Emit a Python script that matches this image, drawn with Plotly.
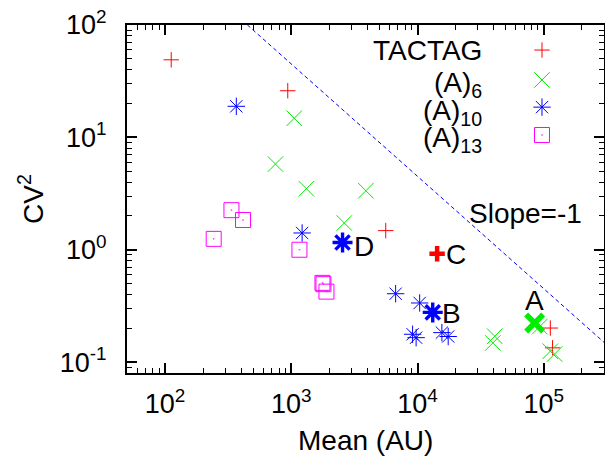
import math
import plotly.graph_objects as go

# ---------------- data ----------------
tactag_mean = [112, 938, 5600, 112700, 117400]
tactag_cv2 = [49, 26, 1.48, 0.201, 0.134]

a6_mean = [1055, 750, 1318, 3900, 2630, 40900, 39500, 92900, 112700, 121900]
a6_cv2 = [14.8, 5.78, 3.49, 3.35, 1.73, 0.17, 0.148, 0.207, 0.125, 0.118]

a10_mean = [367, 1219, 6710, 10400, 9140, 9750, 15600, 17500]
a10_cv2 = [18.9, 1.41, 0.406, 0.336, 0.177, 0.165, 0.183, 0.169]

a13_mean = [336, 415, 243, 1161, 1766, 1799, 1901]
a13_cv2 = [2.25, 1.84, 1.25, 1.0, 0.507, 0.494, 0.424]

# highlighted points
hl_labels = ["A", "B", "C", "D"]
hl_series = ["a6", "a10", "tactag", "a10"]
hl_mean = [84700, 13200, 14300, 2548]
hl_cv2 = [0.223, 0.277, 0.92, 1.16]

series_names = ["TACTAG", "(A)<sub>6</sub>", "(A)<sub>10</sub>", "(A)<sub>13</sub>"]

slope_const = 4.5e4
slope_x = [50, 3e5]
slope_label = "Slope=-1"

xtick_vals = [1e2, 1e3, 1e4, 1e5]
xtick_text = ["10<sup>2</sup>", "10<sup>3</sup>", "10<sup>4</sup>", "10<sup>5</sup>"]
ytick_vals = [0.1, 1, 10, 100]
ytick_text = ["10<sup>-1</sup>", "10<sup>0</sup>", "10<sup>1</sup>", "10<sup>2</sup>"]

x_title = "Mean (AU)"
y_title = "CV<sup>2</sup>"

# ---------------- styles ----------------
FONT = "Liberation Sans, Arial, Helvetica, sans-serif"
TXT = 28
RED, GREEN, BLUE, MAG = "#ff0000", "#00ee00", "#0000ff", "#ff00ff"
style = {
    "tactag": dict(symbol="cross-thin", color=RED, size=11),
    "a6": dict(symbol="x-thin", color=GREEN, size=15.5),
    "a10": dict(symbol="asterisk", color=BLUE, size=14.5),
    "a13": dict(symbol="square-open-dot", color=MAG, size=15),
}
bold_width = {"tactag": 4.5, "a6": 5.5, "a10": 3.4, "a13": 3}
bold_scale = {"tactag": 1.0, "a6": 1.1, "a10": 1.15, "a13": 1.0}


def mk(key, width=1.0, scale=1.0):
    s = style[key]
    return dict(symbol=s["symbol"], size=s["size"] * scale, color=s["color"],
                line=dict(color=s["color"], width=width))


fig = go.Figure()

# slope line
fig.add_trace(go.Scatter(x=slope_x, y=[slope_const / v for v in slope_x], mode="lines",
                         line=dict(color=BLUE, width=1, dash="4px,3px"),
                         showlegend=False, hoverinfo="skip"))

data = [("tactag", tactag_mean, tactag_cv2), ("a6", a6_mean, a6_cv2),
        ("a10", a10_mean, a10_cv2), ("a13", a13_mean, a13_cv2)]
for key, xs, ys in data:
    fig.add_trace(go.Scatter(x=xs, y=ys, mode="markers", marker=mk(key),
                             showlegend=False))

# highlighted bold points
for lab, key, xv, yv in zip(hl_labels, hl_series, hl_mean, hl_cv2):
    fig.add_trace(go.Scatter(x=[xv], y=[yv], mode="markers",
                             marker=mk(key, width=bold_width[key], scale=bold_scale[key]),
                             showlegend=False))

# point labels (text)
lab_pos = {"A": dict(xanchor="center", yanchor="bottom", xshift=0, yshift=5),
           "B": dict(xanchor="left", yanchor="middle", xshift=7, yshift=-1),
           "C": dict(xanchor="left", yanchor="middle", xshift=7, yshift=-1),
           "D": dict(xanchor="left", yanchor="middle", xshift=9, yshift=-4)}
for lab, xv, yv in zip(hl_labels, hl_mean, hl_cv2):
    p = lab_pos[lab]
    fig.add_annotation(x=math.log10(xv), y=math.log10(yv), xref="x", yref="y",
                       text=lab, showarrow=False, font=dict(family=FONT, size=TXT, color="black"),
                       **p)

# slope label
fig.add_annotation(x=1.0, y=0, xref="paper", yref="paper", text=slope_label, showarrow=False,
                   xanchor="right", yanchor="middle", xshift=-20, yshift=160,
                   font=dict(family=FONT, size=TXT, color="black"))

# legend (text on left, symbol on right) using an overlay axis
leg_y = [0.928, 0.842, 0.764, 0.684]
leg_keys = ["tactag", "a6", "a10", "a13"]
for key, name, yy in zip(leg_keys, series_names, leg_y):
    fig.add_trace(go.Scatter(x=[0.870], y=[yy], xaxis="x2", yaxis="y2", mode="markers",
                             marker=mk(key), showlegend=False, hoverinfo="skip"))
    fig.add_annotation(x=0.749, y=yy, xref="paper", yref="paper", text=name, showarrow=False,
                       xanchor="right", yanchor="middle",
                       yshift=(0 if key == "tactag" else -5),
                       font=dict(family=FONT, size=TXT, color="black"))

# axis titles
fig.add_annotation(x=0.5, y=0, xref="paper", yref="paper", text=x_title, showarrow=False,
                   xanchor="center", yanchor="middle", yshift=-67,
                   font=dict(family=FONT, size=TXT, color="black"))
fig.add_annotation(x=0, y=0.5, xref="paper", yref="paper", text=y_title, showarrow=False,
                   xanchor="center", yanchor="middle", xshift=-96, textangle=-90,
                   font=dict(family=FONT, size=TXT, color="black"))

minor_x = [m * 10 ** e for e in range(1, 6) for m in range(2, 10)]
minor_y = [m * 10 ** e for e in range(-2, 2) for m in range(2, 10)]

axis_common = dict(type="log", showline=True, linecolor="black", linewidth=2,
                   mirror="allticks", ticks="inside", ticklen=10, tickwidth=1.5,
                   tickcolor="black", showgrid=False, zeroline=False, automargin=False,
                   tickfont=dict(family=FONT, size=27, color="black"))

fig.update_layout(
    width=605, height=459,
    margin=dict(l=127, r=1, t=25, b=86, autoexpand=False),
    paper_bgcolor="white", plot_bgcolor="white",
    showlegend=False,
    xaxis=dict(range=[math.log10(50), math.log10(3e5)], tickmode="array",
               tickvals=xtick_vals, ticktext=xtick_text, ticklabelstandoff=6,
               minor=dict(tickmode="array", tickvals=minor_x, ticks="inside", ticklen=5,
                          tickwidth=1.2, tickcolor="black"),
               **axis_common),
    yaxis=dict(range=[math.log10(0.08), 2], tickmode="array",
               tickvals=ytick_vals, ticktext=ytick_text, ticklabelstandoff=13,
               minor=dict(tickmode="array", tickvals=minor_y, ticks="inside", ticklen=5,
                          tickwidth=1.2, tickcolor="black"),
               **axis_common),
    xaxis2=dict(overlaying="x", range=[0, 1], visible=False, anchor="y2"),
    yaxis2=dict(overlaying="y", range=[0, 1], visible=False, anchor="x2"),
)

fig.write_html(
    "out.html",
    config={"displayModeBar": False},
    post_script="document.body.style.margin='0';document.body.style.overflow='hidden';",
)
